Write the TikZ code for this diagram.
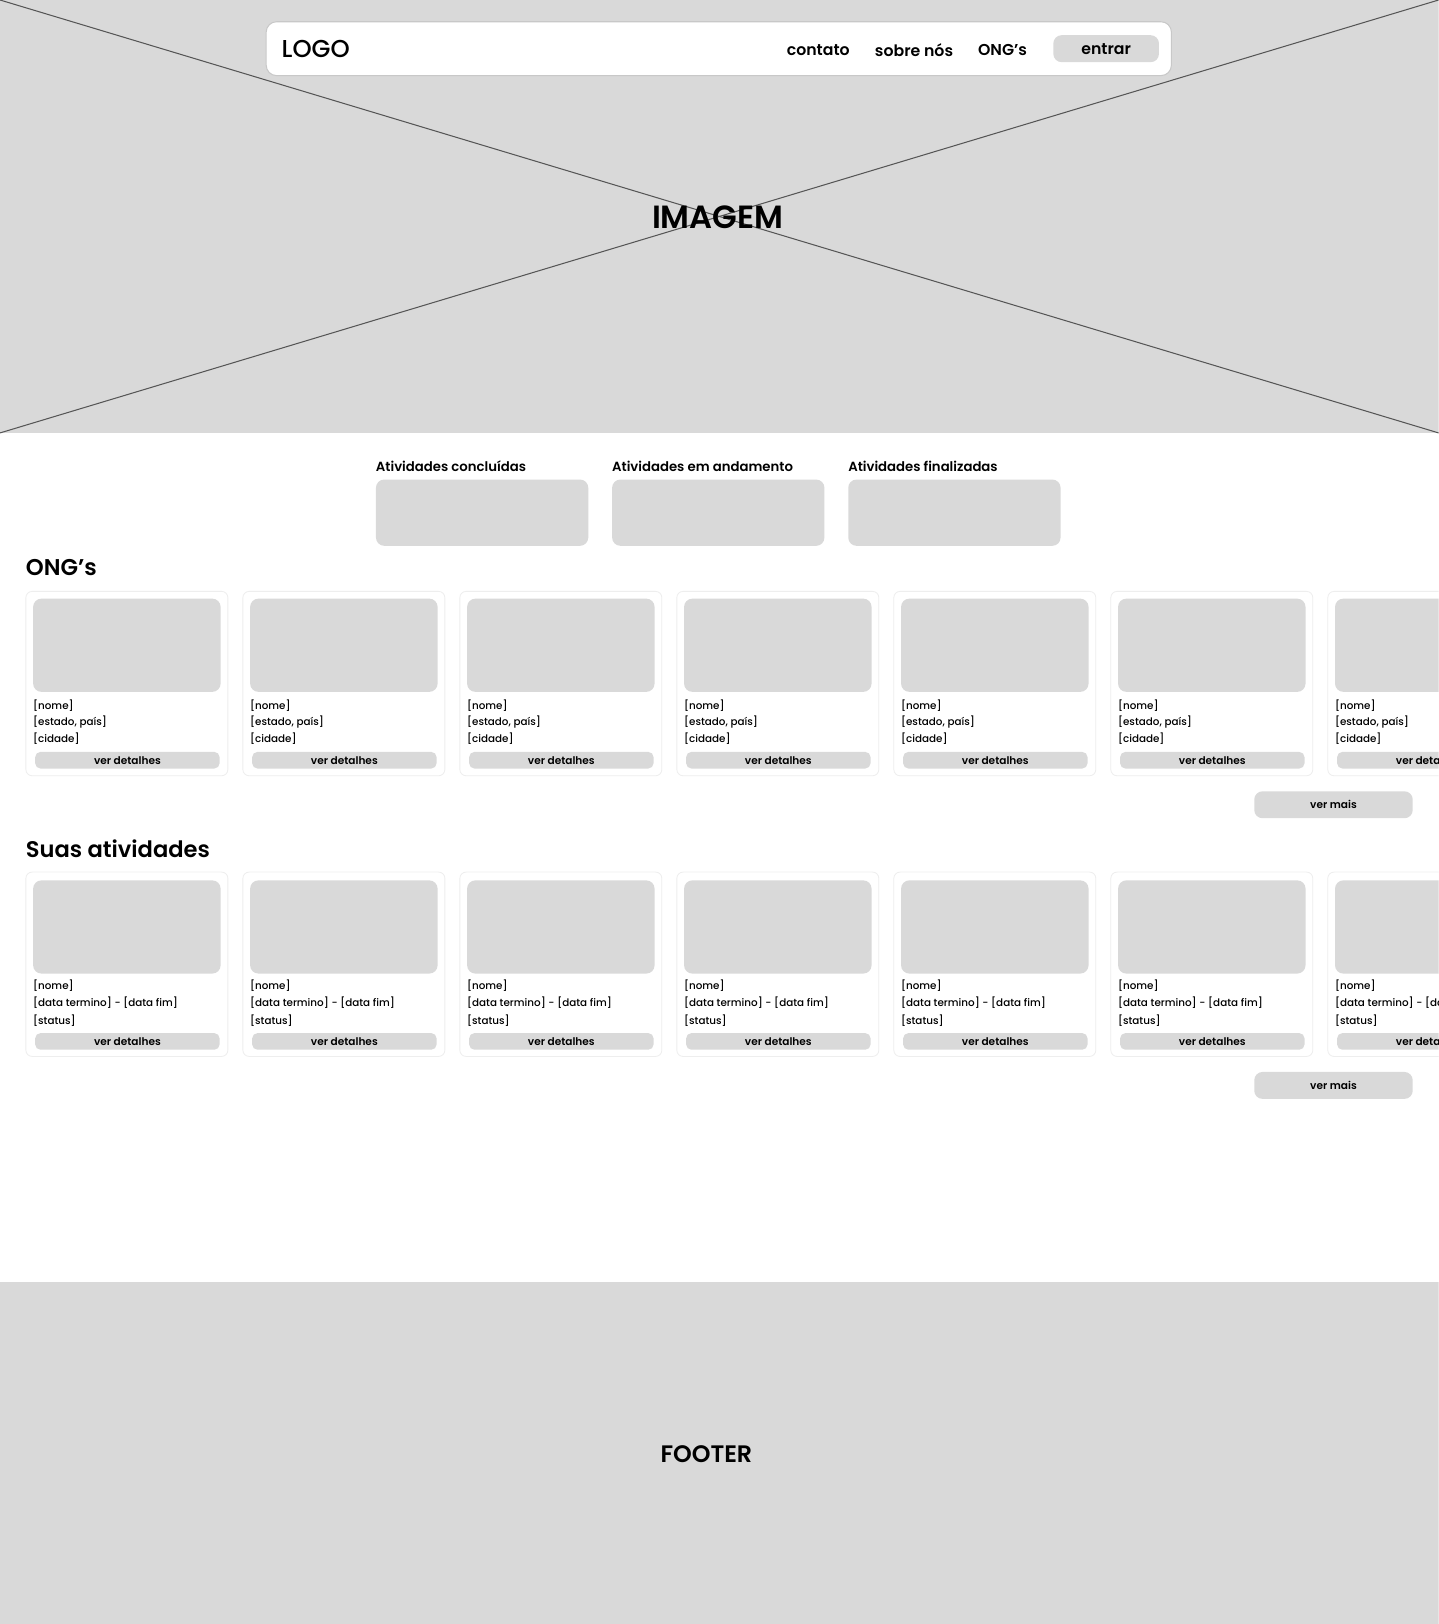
\documentclass[tikz,border=0pt]{standalone}
\usepackage{fontspec}
\setmainfont{Poppins}
\newfontfamily\pmed{Poppins Medium}
\newfontfamily\psemi{Poppins SemiBold}
\definecolor{ph}{HTML}{D9D9D9}
\definecolor{cardline}{HTML}{EEEEEE}
\definecolor{xline}{HTML}{555555}
\definecolor{navline}{HTML}{C8C8C8}
\newcommand{\fs}[1]{\fontsize{#1}{#1}\selectfont}
\begin{document}
\begin{tikzpicture}[x=0.5pt,y=-0.5pt,
  every node/.style={inner sep=0pt, outer sep=0pt, text=black},
  phbox/.style={fill=ph, draw=none, rounded corners=4pt},
  cardbox/.style={draw=cardline, line width=0.4pt, fill=white, rounded corners=3pt},
  ctext/.style={anchor=west, font=\pmed\fs{5.0pt}},
  btn/.style={fill=ph, rounded corners=2.5pt, minimum width=89pt, minimum height=8pt, font=\psemi\fs{5.1pt}},
  morebtn/.style={fill=ph, rounded corners=4pt, minimum width=76.5pt, minimum height=13pt, font=\psemi\fs{5.1pt}},
  navtext/.style={font=\psemi\fs{7.6pt}},
  stattext/.style={anchor=west, font=\psemi\fs{6.4pt}},
  heading/.style={anchor=west, font=\psemi\fs{11pt}},
]
\useasboundingbox (0,0) rectangle (1389,1568);
\clip (0,0) rectangle (1389,1568);
\fill[white] (0,0) rectangle (1389,1568);
% hero
\fill[ph] (0,0) rectangle (1389,418);
\coordinate (tl) at (0,0);
\coordinate (tr) at (1389,0);
\coordinate (bl) at (0,418);
\coordinate (br) at (1389,418);
\draw[xline, line width=0.5pt] (tl) -- (br);
\draw[xline, line width=0.5pt] (bl) -- (tr);
\node[font=\psemi\fs{15.5pt}] (imagem) at (693,210) {IMAGEM};
% navbar
\node[draw=navline, line width=0.5pt, fill=white, rounded corners=5pt, minimum width=437pt, minimum height=26pt] (nav) at (694,47) {};
\node[anchor=west, font=\pmed\fs{11.8pt}] (logo) at (272,47) {LOGO};
\node[navtext] (contato) at (790,48) {contato};
\node[navtext] (sobre) at (882.5,48) {sobre nós};
\node[navtext] (ongs) at (968,48) {ONG’s};
\node[fill=ph, rounded corners=4pt, minimum width=51pt, minimum height=13pt, navtext] (entrar) at (1068,47) {entrar};
% stats
\foreach \n/\x/\t in {s1/363/Atividades concluídas, s2/591/Atividades em andamento, s3/819/Atividades finalizadas} {
  \node[stattext] (\n label) at (\x,450) {\t};
  \fill[phbox] (\x,463) rectangle ++(205,64);
}
% ONG's
\node[heading] (ongh) at (25,548) {ONG’s};
\foreach \i in {0,...,6} {
  \pgfmathsetmacro\cx{25+209.5*\i}
  \draw[cardbox] (\cx,571) rectangle ++(195,178);
  \fill[phbox] (\cx+7,578) rectangle ++(181,90);
  \node[ctext] (onga\i) at (\cx+7,681) {[nome]};
  \node[ctext] (ongb\i) at (\cx+7,697) {[estado, país]};
  \node[ctext] (ongc\i) at (\cx+7,713) {[cidade]};
  \node[btn] (ongbtn\i) at (\cx+98,734) {ver detalhes};
}
\node[morebtn] (ongmore) at (1287.5,777) {ver mais};
% Suas atividades
\node[heading, font=\psemi\fs{10.9pt}] (ativh) at (25,819) {Suas atividades};
\foreach \i in {0,...,6} {
  \pgfmathsetmacro\cx{25+209.5*\i}
  \draw[cardbox] (\cx,842) rectangle ++(195,178);
  \fill[phbox] (\cx+7,850) rectangle ++(181,90);
  \node[ctext] (ata\i) at (\cx+7,952) {[nome]};
  \node[ctext] (atb\i) at (\cx+7,968) {[data termino] - [data fim]};
  \node[ctext] (atc\i) at (\cx+7,985) {[status]};
  \node[btn] (atbtn\i) at (\cx+98,1005.5) {ver detalhes};
}
\node[morebtn] (atmore) at (1287.5,1048) {ver mais};
% footer
\fill[ph] (0,1238) rectangle (1389,1568);
\node[font=\psemi\fs{11.5pt}] (footer) at (682,1404) {FOOTER};
\end{tikzpicture}
\end{document}
